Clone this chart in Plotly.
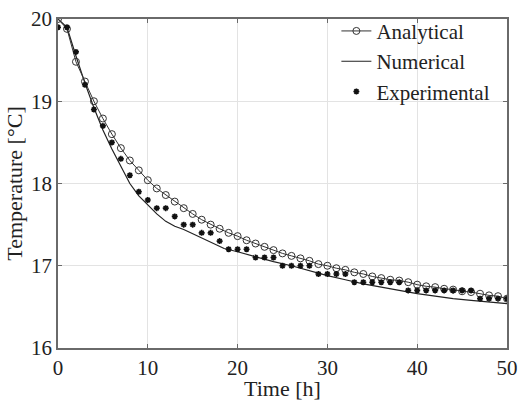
import plotly.graph_objects as go

# Analytical solution (every hour)
t_analytical = list(range(0, 51))
T_analytical = [20.0, 19.88, 19.48, 19.24, 19.0, 18.79, 18.6, 18.43, 18.28, 18.16,
                18.04, 17.94, 17.86, 17.78, 17.7, 17.63, 17.56, 17.5, 17.45, 17.4,
                17.36, 17.31, 17.27, 17.23, 17.19, 17.15, 17.12, 17.09, 17.06, 17.02,
                17.0, 16.97, 16.95, 16.92, 16.9, 16.87, 16.85, 16.83, 16.82, 16.8,
                16.77, 16.75, 16.74, 16.72, 16.71, 16.69, 16.68, 16.66, 16.64, 16.63,
                16.6]

# Numerical solution
t_numerical = [0, 1, 2, 3, 4, 5, 6, 7, 8, 9, 10, 11, 12, 13, 14, 15, 16, 17, 18, 18.5,
               20, 22, 24, 26, 28, 30, 32, 34, 36, 38, 40, 42, 44, 46, 48, 50]
T_numerical = [20.0, 19.9, 19.55, 19.22, 18.92, 18.65, 18.42, 18.2, 18.0, 17.85, 17.74,
               17.63, 17.54, 17.48, 17.44, 17.39, 17.34, 17.29, 17.24, 17.21,
               17.17, 17.11, 17.05, 17.0, 16.94, 16.88, 16.83, 16.78, 16.74, 16.7,
               16.66, 16.63, 16.6, 16.58, 16.56, 16.54]

# Experimental measurements (every hour)
t_experimental = list(range(0, 51))
T_experimental = [19.9, 19.9, 19.6, 19.2, 18.9, 18.7, 18.5, 18.3, 18.1, 17.9,
                  17.8, 17.7, 17.7, 17.6, 17.5, 17.5, 17.4, 17.4, 17.3, 17.2,
                  17.2, 17.2, 17.1, 17.1, 17.1, 17.0, 17.0, 17.0, 17.0, 16.9,
                  16.9, 16.9, 16.9, 16.8, 16.8, 16.8, 16.8, 16.8, 16.8, 16.7,
                  16.7, 16.7, 16.7, 16.7, 16.7, 16.7, 16.7, 16.6, 16.6, 16.6,
                  16.6]

x_ticks = [0, 10, 20, 30, 40, 50]
y_ticks = [16, 17, 18, 19, 20]

FONT = "Liberation Serif"

fig = go.Figure()
fig.add_trace(go.Scatter(
    x=t_numerical, y=T_numerical, name="Numerical", mode="lines",
    line=dict(color="#222222", width=1.2), showlegend=False))
fig.add_trace(go.Scatter(
    x=t_analytical, y=T_analytical, name="Analytical", mode="lines+markers",
    line=dict(color="#333333", width=1),
    marker=dict(symbol="circle-open", size=7, color="#333333", line=dict(width=1))))
fig.add_trace(go.Scatter(
    x=[None], y=[None], name="Numerical", mode="lines",
    line=dict(color="#222222", width=1.2)))
fig.add_trace(go.Scatter(
    x=t_experimental, y=T_experimental, name="Experimental", mode="markers",
    marker=dict(symbol="asterisk-open", size=5, color="#111111",
                line=dict(width=1.6, color="#111111"))))

axis_common = dict(
    showgrid=True, gridcolor="#e3e3e3", gridwidth=1,
    showline=True, linecolor="#6a6a6a", linewidth=1.5, mirror="ticks",
    ticks="inside", ticklen=4, tickcolor="#6a6a6a",
    tickfont=dict(family=FONT, size=21, color="#222222"),
    zeroline=False, automargin=False,
)

fig.update_layout(
    width=518, height=401,
    margin=dict(l=58, r=11, t=15, b=53),
    paper_bgcolor="white", plot_bgcolor="white",
    font=dict(family=FONT, size=22, color="#222222"),
    xaxis=dict(range=[0, 50], tickvals=x_ticks,
               title=dict(text="Time [h]", font=dict(family=FONT, size=22), standoff=4),
               **axis_common),
    yaxis=dict(range=[16, 20], tickvals=y_ticks,
               title=dict(text="Temperature [°C]", font=dict(family=FONT, size=22), standoff=2),
               **axis_common),
    legend=dict(x=0.62, y=1.025, xanchor="left", yanchor="top",
                bgcolor="rgba(0,0,0,0)", borderwidth=0,
                font=dict(family=FONT, size=21, color="#222222"),
                tracegroupgap=0, itemwidth=30),
)

fig.write_html("out.html")
